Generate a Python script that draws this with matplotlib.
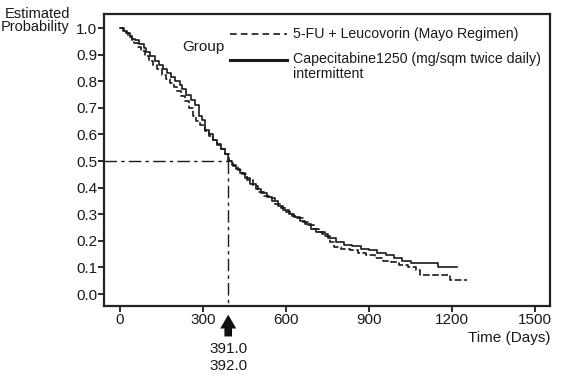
import matplotlib
matplotlib.use("Agg")
import matplotlib.pyplot as plt
from matplotlib.lines import Line2D

plt.rcParams['font.family'] = ['Liberation Sans', 'DejaVu Sans']

# Capecitabine (solid)
cape_t = [0, 15, 25, 35, 45, 55, 70, 85, 95, 110, 125, 140, 155, 170, 185, 200, 215, 225, 240, 255,
          270, 285, 295, 307, 320, 335, 350, 365, 380, 391, 405, 420, 435, 450, 470, 490, 510, 530,
          550, 570, 590, 610, 630, 650, 670, 690, 710, 730, 750, 780, 810, 840, 870, 900, 930, 960,
          990, 1020, 1050, 1150, 1217]
cape_s = [1.0, 0.99, 0.98, 0.97, 0.96, 0.955, 0.94, 0.925, 0.91, 0.895, 0.875, 0.86, 0.845, 0.83,
          0.815, 0.80, 0.785, 0.77, 0.75, 0.73, 0.71, 0.67, 0.655, 0.617, 0.60, 0.58, 0.565, 0.545,
          0.525, 0.50, 0.485, 0.47, 0.455, 0.435, 0.415, 0.395, 0.38, 0.365, 0.35, 0.33, 0.315, 0.30,
          0.29, 0.275, 0.265, 0.245, 0.235, 0.225, 0.21, 0.195, 0.185, 0.18, 0.17, 0.165, 0.155,
          0.145, 0.135, 0.125, 0.115, 0.10, 0.10]

# 5-FU + Leucovorin (dashed)
fu_t = [0, 12, 22, 30, 42, 50, 65, 75, 90, 105, 120, 135, 150, 165, 180, 195, 205, 220, 235, 250,
        262, 275, 290, 307, 320, 335, 350, 365, 378, 392, 410, 425, 440, 460, 480, 500, 520, 540,
        560, 580, 600, 620, 640, 660, 680, 700, 720, 740, 760, 775, 800, 830, 860, 890, 920, 950,
        980, 1010, 1040, 1070, 1085, 1193, 1253]
fu_s = [1.0, 0.99, 0.98, 0.965, 0.955, 0.945, 0.93, 0.915, 0.895, 0.875, 0.86, 0.845, 0.825, 0.81,
        0.795, 0.78, 0.765, 0.745, 0.725, 0.70, 0.67, 0.652, 0.635, 0.612, 0.595, 0.578, 0.56,
        0.545, 0.525, 0.50, 0.48, 0.465, 0.45, 0.43, 0.405, 0.385, 0.37, 0.36, 0.34, 0.325, 0.31,
        0.295, 0.285, 0.27, 0.26, 0.245, 0.235, 0.22, 0.195, 0.175, 0.17, 0.165, 0.155, 0.145,
        0.135, 0.125, 0.12, 0.11, 0.10, 0.09, 0.072, 0.053, 0.053]

median_t = 391
median_labels = ["391.0", "392.0"]
x_ticks = [0, 300, 600, 900, 1200, 1500]
y_ticks = [0.0, 0.1, 0.2, 0.3, 0.4, 0.5, 0.6, 0.7, 0.8, 0.9, 1.0]
label_fu = "5-FU + Leucovorin (Mayo Regimen)"
label_cape = "Capecitabine1250 (mg/sqm twice daily)\nintermittent"

ink = '#1a1a1a'
fig = plt.figure(figsize=(5.73, 3.85), dpi=100)
ax = fig.add_axes([104/573, 1-306/385, (550-104)/573, (306-14)/385])
ax.set_xlim(-58, 1554)
ax.set_ylim(-0.045, 1.053)

fu_style = (0, (4, 1.5))
ax.step(fu_t, fu_s, where='post', color=ink, lw=1.2, linestyle=fu_style)
ax.step(cape_t, cape_s, where='post', color=ink, lw=1.2)

dd = (0, (9, 3, 2.5, 3))
ax.plot([-58, median_t], [0.5, 0.5], color=ink, lw=1.0, linestyle=dd)
ax.plot([median_t, median_t], [0.5, -0.045], color=ink, lw=1.0, linestyle=dd)

for s in ax.spines.values():
    s.set_linewidth(1.6)
    s.set_color('#222222')
ax.set_xticks(x_ticks)
ax.set_yticks(y_ticks)
ax.set_yticklabels([f"{v:.1f}" for v in y_ticks])
ax.tick_params(direction='out', length=4, width=1.3, labelsize=11, colors=ink, pad=1)

fig.text(70/573, 1-7/385, "Estimated\nProbability", ha='right', va='top', fontsize=10.5,
         linespacing=0.95, color=ink)
ax.text(1.0, -0.085, "Time (Days)", transform=ax.transAxes, ha='right', va='top',
        fontsize=11, color=ink)

ax.annotate("", xy=(median_t, -0.067), xytext=(median_t, -0.17), xycoords='data',
            textcoords='data', annotation_clip=False,
            arrowprops=dict(arrowstyle='simple,head_width=1.15,head_length=1.0,tail_width=0.55',
                            mutation_scale=10, color='#111111', lw=0))
ax.text(median_t, -0.18, "\n".join(median_labels), ha='center', va='top', fontsize=11,
        linespacing=1.3, color=ink, clip_on=False)

# legend drawn in axes coordinates
ax.text(0.222, 0.887, "Group", transform=ax.transAxes, ha='center', va='center',
        fontsize=11, color=ink)
ax.add_line(Line2D([0.2825, 0.41], [0.9315, 0.9315], transform=ax.transAxes, color=ink,
                   lw=1.2, linestyle=(0, (4, 2.5))))
ax.add_line(Line2D([0.2825, 0.41], [0.8425, 0.8425], transform=ax.transAxes, color=ink,
                   lw=2.2))
ax.text(0.4238, 0.9315, label_fu, transform=ax.transAxes, ha='left', va='center',
        fontsize=10.2, color=ink)
ax.text(0.4238, 0.8425 + 0.028, label_cape, transform=ax.transAxes, ha='left', va='top',
        fontsize=10.2, color=ink, linespacing=1.1)

fig.savefig("out.png", dpi=100)
